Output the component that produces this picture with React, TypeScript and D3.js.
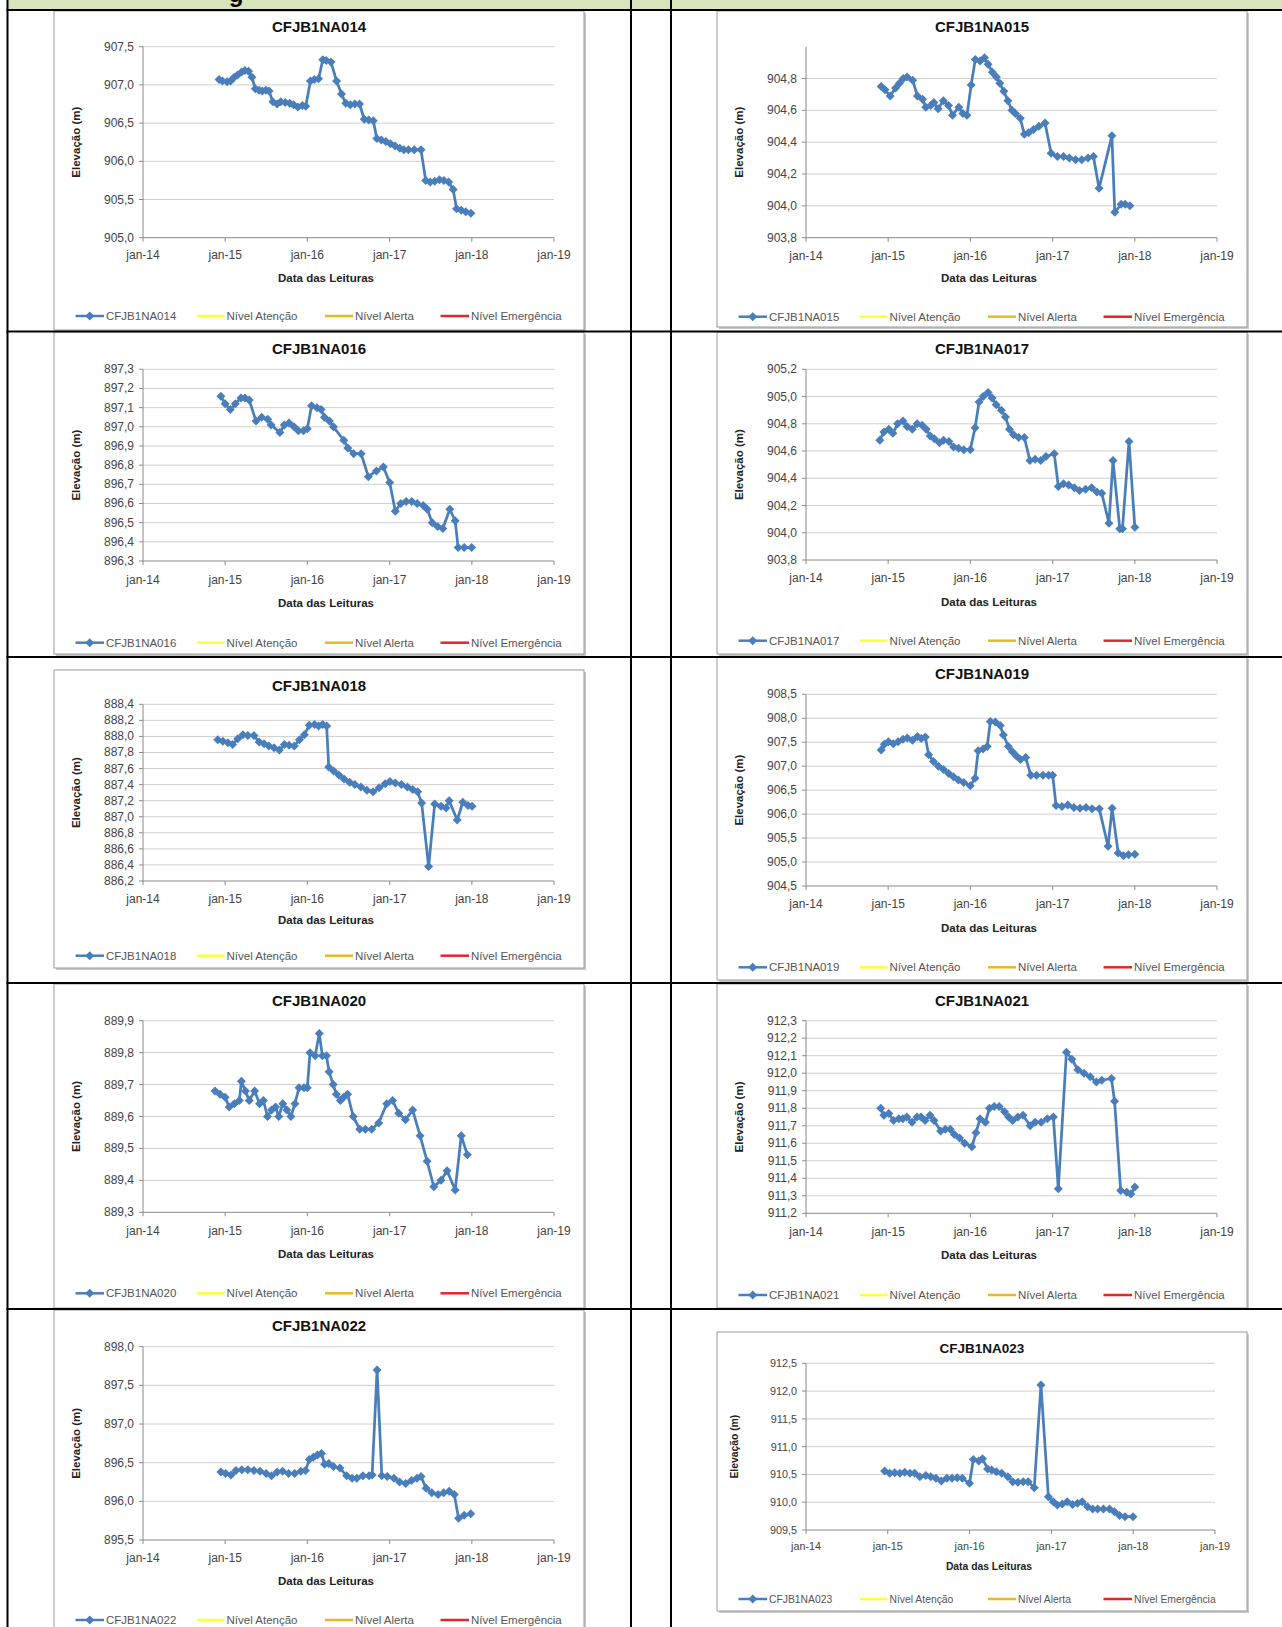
import React from "react";
import * as d3 from "d3";

// ---------- shared axis / legend texts ----------
const X_TICK_DATES = ["2014-01-01", "2015-01-01", "2016-01-01", "2017-01-01", "2018-01-01", "2019-01-01"];
const X_TICK_LABELS = ["jan-14", "jan-15", "jan-16", "jan-17", "jan-18", "jan-19"];
const LEVEL_LABELS = ["Nível Atenção", "Nível Alerta", "Nível Emergência"];
const X_AXIS_TITLE = "Data das Leituras";
const Y_AXIS_TITLE = "Elevação (m)";

const NAMES = [
  "CFJB1NA014", "CFJB1NA015", "CFJB1NA016", "CFJB1NA017", "CFJB1NA018",
  "CFJB1NA019", "CFJB1NA020", "CFJB1NA021", "CFJB1NA022", "CFJB1NA023",
];

// ---------- y axes ----------
const Y014 = [905.0, 905.5, 906.0, 906.5, 907.0, 907.5];
const Y015 = [903.8, 904.0, 904.2, 904.4, 904.6, 904.8];
const Y016 = [896.3, 896.4, 896.5, 896.6, 896.7, 896.8, 896.9, 897.0, 897.1, 897.2, 897.3];
const Y017 = [903.8, 904.0, 904.2, 904.4, 904.6, 904.8, 905.0, 905.2];
const Y018 = [886.2, 886.4, 886.6, 886.8, 887.0, 887.2, 887.4, 887.6, 887.8, 888.0, 888.2, 888.4];
const Y019 = [904.5, 905.0, 905.5, 906.0, 906.5, 907.0, 907.5, 908.0, 908.5];
const Y020 = [889.3, 889.4, 889.5, 889.6, 889.7, 889.8, 889.9];
const Y021 = [911.2, 911.3, 911.4, 911.5, 911.6, 911.7, 911.8, 911.9, 912.0, 912.1, 912.2, 912.3];
const Y022 = [895.5, 896.0, 896.5, 897.0, 897.5, 898.0];
const Y023 = [909.5, 910.0, 910.5, 911.0, 911.5, 912.0, 912.5];
const Y_MAX = [907.5, 905.0, 897.3, 905.2, 888.4, 908.5, 889.9, 912.3, 898.0, 912.5];

// ---------- series (date, elevation) ----------
type P = [string, number];
const S014: P[] = [
  ["2014-12-05", 907.07], ["2014-12-20", 907.05], ["2015-01-10", 907.04], ["2015-01-25", 907.05],
  ["2015-02-10", 907.10], ["2015-02-25", 907.13], ["2015-03-15", 907.17], ["2015-03-30", 907.19],
  ["2015-04-15", 907.18], ["2015-04-30", 907.10], ["2015-05-15", 906.95], ["2015-06-01", 906.93],
  ["2015-06-15", 906.92], ["2015-07-01", 906.93], ["2015-07-15", 906.92], ["2015-08-01", 906.78],
  ["2015-08-20", 906.75], ["2015-09-05", 906.78], ["2015-09-25", 906.77], ["2015-10-15", 906.76],
  ["2015-11-01", 906.74], ["2015-11-20", 906.71], ["2015-12-10", 906.73], ["2015-12-25", 906.72],
  ["2016-01-15", 907.05], ["2016-02-01", 907.07], ["2016-02-20", 907.08], ["2016-03-10", 907.33],
  ["2016-03-25", 907.32], ["2016-04-15", 907.30], ["2016-05-10", 907.05], ["2016-06-01", 906.88],
  ["2016-06-20", 906.76], ["2016-07-10", 906.74], ["2016-07-30", 906.75], ["2016-08-20", 906.75],
  ["2016-09-10", 906.55], ["2016-09-30", 906.54], ["2016-10-20", 906.53], ["2016-11-05", 906.30],
  ["2016-11-25", 906.28], ["2016-12-15", 906.26], ["2017-01-05", 906.23], ["2017-01-25", 906.20],
  ["2017-02-15", 906.17], ["2017-03-05", 906.15], ["2017-03-25", 906.15], ["2017-04-20", 906.15],
  ["2017-05-20", 906.15], ["2017-06-10", 905.75], ["2017-06-30", 905.73], ["2017-07-20", 905.74],
  ["2017-08-10", 905.76], ["2017-08-30", 905.75], ["2017-09-20", 905.73], ["2017-10-10", 905.63],
  ["2017-10-25", 905.38], ["2017-11-15", 905.36], ["2017-12-05", 905.34], ["2017-12-28", 905.32],
];
const S015: P[] = [
  ["2014-12-01", 904.75], ["2014-12-18", 904.73], ["2015-01-10", 904.69], ["2015-02-03", 904.74],
  ["2015-02-20", 904.77], ["2015-03-09", 904.80], ["2015-03-26", 904.81], ["2015-04-20", 904.79],
  ["2015-05-11", 904.69], ["2015-06-03", 904.67], ["2015-06-17", 904.62], ["2015-07-09", 904.63],
  ["2015-07-23", 904.65], ["2015-08-11", 904.61], ["2015-09-03", 904.66], ["2015-09-26", 904.63],
  ["2015-10-14", 904.57], ["2015-11-11", 904.62], ["2015-11-29", 904.58], ["2015-12-17", 904.57],
  ["2016-01-05", 904.76], ["2016-01-23", 904.92], ["2016-02-14", 904.91], ["2016-03-04", 904.93],
  ["2016-03-20", 904.89], ["2016-04-08", 904.84], ["2016-04-26", 904.81], ["2016-05-11", 904.77],
  ["2016-05-29", 904.72], ["2016-06-16", 904.66], ["2016-07-04", 904.60], ["2016-07-19", 904.58],
  ["2016-08-10", 904.55], ["2016-08-28", 904.45], ["2016-09-16", 904.46], ["2016-10-08", 904.48],
  ["2016-11-01", 904.50], ["2016-11-28", 904.52], ["2016-12-25", 904.33], ["2017-01-22", 904.31],
  ["2017-02-18", 904.31], ["2017-03-16", 904.30], ["2017-04-13", 904.29], ["2017-05-10", 904.29],
  ["2017-06-07", 904.30], ["2017-07-01", 904.31], ["2017-07-26", 904.11], ["2017-09-21", 904.44],
  ["2017-10-04", 903.96], ["2017-11-01", 904.01], ["2017-11-19", 904.01], ["2017-12-10", 904.00],
];
const S016: P[] = [
  ["2014-12-13", 897.16], ["2015-01-01", 897.12], ["2015-01-24", 897.09], ["2015-02-15", 897.12],
  ["2015-03-12", 897.15], ["2015-03-30", 897.15], ["2015-04-18", 897.14], ["2015-05-18", 897.03],
  ["2015-06-12", 897.05], ["2015-07-09", 897.04], ["2015-07-24", 897.01], ["2015-09-01", 896.97],
  ["2015-09-21", 897.01], ["2015-10-12", 897.02], ["2015-11-03", 897.00], ["2015-11-22", 896.98],
  ["2015-12-15", 896.98], ["2016-01-01", 896.99], ["2016-01-20", 897.11], ["2016-02-13", 897.10],
  ["2016-03-02", 897.09], ["2016-03-17", 897.05], ["2016-04-08", 897.03], ["2016-04-26", 897.00],
  ["2016-06-11", 896.93], ["2016-06-29", 896.89], ["2016-07-25", 896.86], ["2016-08-27", 896.86],
  ["2016-09-28", 896.74], ["2016-11-03", 896.77], ["2016-12-04", 896.79], ["2017-01-01", 896.71],
  ["2017-01-26", 896.56], ["2017-02-19", 896.60], ["2017-03-15", 896.61], ["2017-04-09", 896.61],
  ["2017-05-03", 896.60], ["2017-05-30", 896.59], ["2017-06-17", 896.57], ["2017-07-09", 896.50],
  ["2017-08-02", 896.48], ["2017-08-25", 896.47], ["2017-09-25", 896.57], ["2017-10-19", 896.51],
  ["2017-11-01", 896.37], ["2017-11-28", 896.37], ["2017-12-31", 896.37],
];
const S017: P[] = [
  ["2014-11-25", 904.68], ["2014-12-13", 904.74], ["2015-01-04", 904.76], ["2015-01-22", 904.73],
  ["2015-02-12", 904.80], ["2015-03-08", 904.82], ["2015-03-26", 904.78], ["2015-04-18", 904.76],
  ["2015-05-10", 904.80], ["2015-06-01", 904.79], ["2015-06-19", 904.76], ["2015-07-07", 904.71],
  ["2015-07-25", 904.69], ["2015-08-17", 904.66], ["2015-09-04", 904.68], ["2015-09-28", 904.67],
  ["2015-10-19", 904.63], ["2015-11-10", 904.62], ["2015-12-03", 904.61], ["2016-01-01", 904.61],
  ["2016-01-22", 904.77], ["2016-02-09", 904.96], ["2016-02-27", 905.00], ["2016-03-20", 905.03],
  ["2016-04-07", 904.99], ["2016-04-25", 904.94], ["2016-05-18", 904.90], ["2016-06-05", 904.85],
  ["2016-06-23", 904.76], ["2016-07-11", 904.72], ["2016-08-03", 904.70], ["2016-08-28", 904.70],
  ["2016-09-22", 904.53], ["2016-10-15", 904.54], ["2016-11-09", 904.53], ["2016-12-02", 904.56],
  ["2017-01-08", 904.58], ["2017-01-26", 904.34], ["2017-02-18", 904.36], ["2017-03-13", 904.35],
  ["2017-04-07", 904.33], ["2017-04-30", 904.31], ["2017-05-27", 904.32], ["2017-06-23", 904.33],
  ["2017-07-16", 904.30], ["2017-08-07", 904.29], ["2017-09-08", 904.07], ["2017-09-26", 904.53],
  ["2017-10-26", 904.03], ["2017-11-07", 904.03], ["2017-12-06", 904.67], ["2018-01-01", 904.04],
];
const S018: P[] = [
  ["2014-11-29", 887.96], ["2014-12-22", 887.94], ["2015-01-13", 887.92], ["2015-02-03", 887.90],
  ["2015-02-26", 887.97], ["2015-03-21", 888.02], ["2015-04-12", 888.01], ["2015-05-09", 888.01],
  ["2015-06-01", 887.93], ["2015-06-23", 887.91], ["2015-07-14", 887.88], ["2015-08-06", 887.86],
  ["2015-08-30", 887.83], ["2015-09-21", 887.90], ["2015-10-12", 887.89], ["2015-11-04", 887.88],
  ["2015-11-27", 887.96], ["2015-12-19", 888.02], ["2016-01-10", 888.14], ["2016-02-02", 888.15],
  ["2016-02-20", 888.13], ["2016-03-09", 888.15], ["2016-03-27", 888.13], ["2016-04-05", 887.62],
  ["2016-04-27", 887.57], ["2016-05-20", 887.52], ["2016-06-12", 887.47], ["2016-07-07", 887.43],
  ["2016-07-30", 887.40], ["2016-08-26", 887.37], ["2016-09-22", 887.33], ["2016-10-19", 887.31],
  ["2016-11-15", 887.36], ["2016-12-12", 887.41], ["2017-01-02", 887.44], ["2017-01-26", 887.42],
  ["2017-02-22", 887.40], ["2017-03-21", 887.37], ["2017-04-13", 887.34], ["2017-05-05", 887.31],
  ["2017-05-23", 887.17], ["2017-06-23", 886.38], ["2017-07-20", 887.16], ["2017-08-17", 887.13],
  ["2017-09-08", 887.11], ["2017-09-22", 887.20], ["2017-10-28", 886.96], ["2017-11-22", 887.18],
  ["2017-12-15", 887.14], ["2018-01-02", 887.13],
];
const S019: P[] = [
  ["2014-12-01", 907.34], ["2014-12-15", 907.46], ["2015-01-02", 907.51], ["2015-01-24", 907.47],
  ["2015-02-14", 907.51], ["2015-03-08", 907.56], ["2015-03-27", 907.59], ["2015-04-19", 907.54],
  ["2015-05-11", 907.62], ["2015-05-28", 907.58], ["2015-06-15", 907.61], ["2015-06-30", 907.24],
  ["2015-07-21", 907.10], ["2015-08-12", 907.00], ["2015-09-04", 906.93], ["2015-09-27", 906.85],
  ["2015-10-18", 906.78], ["2015-11-09", 906.71], ["2015-12-03", 906.66], ["2016-01-01", 906.59],
  ["2016-01-22", 906.75], ["2016-02-05", 907.32], ["2016-02-27", 907.36], ["2016-03-16", 907.41],
  ["2016-03-30", 907.93], ["2016-04-21", 907.92], ["2016-05-13", 907.85], ["2016-05-27", 907.65],
  ["2016-06-18", 907.41], ["2016-07-06", 907.30], ["2016-07-24", 907.21], ["2016-08-11", 907.14],
  ["2016-09-03", 907.18], ["2016-09-26", 906.81], ["2016-10-21", 906.81], ["2016-11-19", 906.81],
  ["2016-12-14", 906.81], ["2017-01-01", 906.81], ["2017-01-16", 906.18], ["2017-02-11", 906.16],
  ["2017-03-09", 906.19], ["2017-04-05", 906.14], ["2017-05-02", 906.12], ["2017-05-29", 906.14],
  ["2017-06-25", 906.11], ["2017-07-27", 906.11], ["2017-09-04", 905.33], ["2017-09-22", 906.12],
  ["2017-10-19", 905.19], ["2017-11-12", 905.13], ["2017-12-04", 905.15], ["2018-01-01", 905.16],
];
const S020: P[] = [
  ["2014-11-17", 889.68], ["2014-12-09", 889.67], ["2015-01-01", 889.66], ["2015-01-19", 889.63],
  ["2015-02-11", 889.64], ["2015-03-05", 889.65], ["2015-03-14", 889.71], ["2015-04-01", 889.68],
  ["2015-04-18", 889.65], ["2015-05-12", 889.68], ["2015-06-03", 889.64], ["2015-06-20", 889.65],
  ["2015-07-08", 889.60], ["2015-07-26", 889.62], ["2015-08-13", 889.63], ["2015-08-27", 889.60],
  ["2015-09-14", 889.64], ["2015-10-02", 889.62], ["2015-10-20", 889.60], ["2015-11-07", 889.64],
  ["2015-11-25", 889.69], ["2015-12-17", 889.69], ["2016-01-01", 889.69], ["2016-01-13", 889.80],
  ["2016-02-05", 889.79], ["2016-02-23", 889.86], ["2016-03-08", 889.79], ["2016-03-26", 889.79],
  ["2016-04-07", 889.74], ["2016-04-25", 889.70], ["2016-05-09", 889.67], ["2016-05-27", 889.65],
  ["2016-06-10", 889.66], ["2016-06-28", 889.67], ["2016-07-23", 889.60], ["2016-08-21", 889.56],
  ["2016-09-15", 889.56], ["2016-10-13", 889.56], ["2016-11-13", 889.58], ["2016-12-19", 889.64],
  ["2017-01-14", 889.65], ["2017-02-10", 889.61], ["2017-03-12", 889.59], ["2017-04-13", 889.62],
  ["2017-05-16", 889.54], ["2017-06-16", 889.46], ["2017-07-16", 889.38], ["2017-08-17", 889.40],
  ["2017-09-13", 889.43], ["2017-10-19", 889.37], ["2017-11-15", 889.54], ["2017-12-12", 889.48],
];
const S021: P[] = [
  ["2014-11-29", 911.80], ["2014-12-13", 911.76], ["2015-01-04", 911.77], ["2015-01-25", 911.73],
  ["2015-02-17", 911.74], ["2015-03-07", 911.74], ["2015-03-25", 911.75], ["2015-04-17", 911.72],
  ["2015-05-09", 911.75], ["2015-05-27", 911.75], ["2015-06-14", 911.73], ["2015-07-06", 911.76],
  ["2015-07-24", 911.73], ["2015-08-22", 911.67], ["2015-09-12", 911.68], ["2015-10-04", 911.68],
  ["2015-10-22", 911.65], ["2015-11-14", 911.63], ["2015-12-07", 911.60], ["2016-01-08", 911.58],
  ["2016-01-26", 911.66], ["2016-02-13", 911.74], ["2016-03-08", 911.72], ["2016-03-26", 911.80],
  ["2016-04-16", 911.81], ["2016-05-08", 911.81], ["2016-06-01", 911.78], ["2016-06-19", 911.75],
  ["2016-07-07", 911.73], ["2016-07-30", 911.75], ["2016-08-22", 911.76], ["2016-09-23", 911.70],
  ["2016-10-15", 911.72], ["2016-11-11", 911.72], ["2016-12-08", 911.74], ["2017-01-04", 911.75],
  ["2017-01-26", 911.34], ["2017-03-03", 912.12], ["2017-03-27", 912.08], ["2017-04-23", 912.02],
  ["2017-05-20", 912.00], ["2017-06-17", 911.98], ["2017-07-14", 911.95], ["2017-08-07", 911.96],
  ["2017-09-19", 911.97], ["2017-10-03", 911.84], ["2017-10-30", 911.33], ["2017-11-26", 911.32],
  ["2017-12-14", 911.31], ["2018-01-01", 911.35],
];
const S022: P[] = [
  ["2014-12-13", 896.38], ["2015-01-03", 896.36], ["2015-01-27", 896.34], ["2015-02-18", 896.40],
  ["2015-03-16", 896.41], ["2015-04-12", 896.41], ["2015-05-09", 896.40], ["2015-06-05", 896.39],
  ["2015-07-02", 896.36], ["2015-07-26", 896.33], ["2015-08-20", 896.38], ["2015-09-13", 896.39],
  ["2015-10-10", 896.36], ["2015-11-06", 896.36], ["2015-12-03", 896.39], ["2015-12-24", 896.40],
  ["2016-01-10", 896.54], ["2016-01-28", 896.57], ["2016-02-15", 896.60], ["2016-03-04", 896.62],
  ["2016-03-18", 896.48], ["2016-04-05", 896.49], ["2016-04-26", 896.45], ["2016-05-25", 896.43],
  ["2016-06-24", 896.33], ["2016-07-18", 896.30], ["2016-08-08", 896.30], ["2016-09-04", 896.33],
  ["2016-10-01", 896.33], ["2016-10-15", 896.34], ["2016-11-06", 897.70], ["2016-11-27", 896.33],
  ["2016-12-21", 896.32], ["2017-01-20", 896.30], ["2017-02-14", 896.25], ["2017-03-13", 896.23],
  ["2017-04-08", 896.27], ["2017-05-02", 896.30], ["2017-05-20", 896.32], ["2017-06-12", 896.17],
  ["2017-07-07", 896.11], ["2017-08-04", 896.09], ["2017-08-29", 896.11], ["2017-09-22", 896.13],
  ["2017-10-15", 896.09], ["2017-11-03", 895.78], ["2017-11-28", 895.82], ["2017-12-27", 895.84],
];
const S023: P[] = [
  ["2014-12-18", 910.56], ["2015-01-10", 910.52], ["2015-02-01", 910.53], ["2015-02-24", 910.52],
  ["2015-03-18", 910.54], ["2015-04-10", 910.52], ["2015-05-01", 910.52], ["2015-05-24", 910.46],
  ["2015-06-20", 910.48], ["2015-07-12", 910.46], ["2015-08-04", 910.43], ["2015-08-28", 910.38],
  ["2015-09-22", 910.43], ["2015-10-15", 910.43], ["2015-11-07", 910.44], ["2015-11-30", 910.43],
  ["2016-01-01", 910.34], ["2016-01-18", 910.77], ["2016-02-11", 910.74], ["2016-02-28", 910.78],
  ["2016-03-22", 910.60], ["2016-04-09", 910.58], ["2016-04-30", 910.55], ["2016-05-24", 910.52],
  ["2016-06-20", 910.46], ["2016-07-12", 910.37], ["2016-08-04", 910.36], ["2016-08-28", 910.37],
  ["2016-09-19", 910.37], ["2016-10-16", 910.26], ["2016-11-15", 912.11], ["2016-12-18", 910.10],
  ["2017-01-09", 910.01], ["2017-01-27", 909.95], ["2017-02-18", 909.97], ["2017-03-12", 910.01],
  ["2017-04-05", 909.96], ["2017-04-27", 909.98], ["2017-05-18", 910.01], ["2017-06-11", 909.92],
  ["2017-07-04", 909.88], ["2017-07-26", 909.88], ["2017-08-21", 909.88], ["2017-09-17", 909.88],
  ["2017-10-09", 909.83], ["2017-11-01", 909.76], ["2017-11-25", 909.74], ["2017-12-31", 909.74],
];

const SERIES = [S014, S015, S016, S017, S018, S019, S020, S021, S022, S023];
const Y_TICKS = [Y014, Y015, Y016, Y017, Y018, Y019, Y020, Y021, Y022, Y023];

// ---------- layout (positions only) ----------
type L = {
  fx: number; fy: number; fw: number; fh: number;
  pl: number; pt: number; pr: number; pb: number;
  title: number; ticks: number; axisT: number; legend: number; ylab: number; s: number;
};
const LEFT = { fx: 54, fw: 530, pl: 143, pr: 554, ylab: 75.5 };
const RIGHT = { fx: 717, fw: 530, pl: 806, pr: 1217, ylab: 738.5 };
const LAYOUT: L[] = [
  { ...LEFT, fy: 11, fh: 319, pt: 46.7, pb: 237.7, title: 26.7, ticks: 255, axisT: 277.7, legend: 316, s: 1 },
  { ...RIGHT, fy: 11, fh: 316, pt: 46.7, pb: 237.7, title: 26.7, ticks: 256, axisT: 278, legend: 316.7, s: 1 },
  { ...LEFT, fy: 332, fh: 322, pt: 369.3, pb: 561, title: 348.3, ticks: 580, axisT: 603, legend: 642.7, s: 1 },
  { ...RIGHT, fy: 332, fh: 322, pt: 369.3, pb: 560, title: 348.3, ticks: 578, axisT: 601.7, legend: 640.7, s: 1 },
  { ...LEFT, fy: 670, fh: 298, pt: 704.3, pb: 881, title: 685.7, ticks: 899.3, axisT: 920, legend: 955.7, s: 1 },
  { ...RIGHT, fy: 657, fh: 323, pt: 694.3, pb: 886, title: 673.3, ticks: 904.3, axisT: 927.7, legend: 967.3, s: 1 },
  { ...LEFT, fy: 984, fh: 324, pt: 1020.7, pb: 1212.3, title: 1000, ticks: 1230.7, axisT: 1254, legend: 1293.3, s: 1 },
  { ...RIGHT, fy: 984, fh: 324, pt: 1020.7, pb: 1213.3, title: 1000, ticks: 1232.3, axisT: 1255, legend: 1295, s: 1 },
  { ...LEFT, fy: 1310, fh: 340, pt: 1346.7, pb: 1540, title: 1325.7, ticks: 1558.3, axisT: 1581, legend: 1620, s: 1 },
  { ...RIGHT, ylab: 734, pr: 1215, fy: 1332, fh: 279, pt: 1363.3, pb: 1530, title: 1348.3, ticks: 1545.7, axisT: 1566.7, legend: 1599, s: 0.9 },
];

const BLUE = "#4a7ebb";
const LEVEL_COLORS = ["#ffff33", "#e8b923", "#e3262b"];
const FONT = "'Liberation Sans', Arial, Helvetica, sans-serif";
const parse = d3.timeParse("%Y-%m-%d");
const fmt = (v: number) => d3.format(".1f")(v).replace(".", ",");
const DIAMOND = "M0,-4.5L4.5,0L0,4.5L-4.5,0Z";

function MiniChart({ idx }: { idx: number }) {
  const lay = LAYOUT[idx];
  const data = SERIES[idx];
  const ticks = Y_TICKS[idx];
  const s = lay.s;
  const x = d3.scaleTime()
    .domain([parse(X_TICK_DATES[0])!, parse(X_TICK_DATES[X_TICK_DATES.length - 1])!])
    .range([lay.pl, lay.pr]);
  const y = d3.scaleLinear().domain([ticks[0], Y_MAX[idx]]).range([lay.pb, lay.pt]);
  const line = d3.line<P>().x((d) => x(parse(d[0])!)).y((d) => y(d[1]));
  const cx = lay.fx + lay.fw / 2;
  const legendItems = [
    { x0: 21.5, x1: 50, tx: 52, label: NAMES[idx], color: BLUE, marker: true },
    { x0: 143, x1: 170.5, tx: 172.5, label: LEVEL_LABELS[0], color: LEVEL_COLORS[0], marker: false },
    { x0: 271, x1: 299, tx: 301, label: LEVEL_LABELS[1], color: LEVEL_COLORS[1], marker: false },
    { x0: 386.5, x1: 415, tx: 417, label: LEVEL_LABELS[2], color: LEVEL_COLORS[2], marker: false },
  ];
  return (
    <g fontFamily={FONT}>
      <rect x={lay.fx + 2} y={lay.fy + 2} width={lay.fw} height={lay.fh} fill="#c8c8c8" />
      <rect x={lay.fx} y={lay.fy} width={lay.fw} height={lay.fh} fill="#fff" stroke="#9a9a9a" strokeWidth={1} />
      <text x={cx} y={lay.title} textAnchor="middle" dominantBaseline="central" fontWeight="bold" fontSize={15 * s} fill="#111">
        {NAMES[idx]}
      </text>
      {ticks.slice(1).map((t) => (
        <line key={"g" + t} x1={lay.pl} x2={lay.pr} y1={y(t)} y2={y(t)} stroke="#cfcfcf" strokeWidth={1} />
      ))}
      <line x1={lay.pl} x2={lay.pl} y1={lay.pt} y2={lay.pb} stroke="#8a8a8a" strokeWidth={1} />
      {ticks.map((t) => (
        <g key={"yt" + t}>
          <line x1={lay.pl - 4} x2={lay.pl} y1={y(t)} y2={y(t)} stroke="#8a8a8a" />
          <text x={lay.pl - 9} y={y(t)} textAnchor="end" dominantBaseline="central" fontSize={12 * s} fill="#444">
            {fmt(t)}
          </text>
        </g>
      ))}
      <line x1={lay.pl} x2={lay.pr} y1={lay.pb} y2={lay.pb} stroke="#8a8a8a" strokeWidth={1} />
      {X_TICK_DATES.map((d, i) => {
        const xx = x(parse(d)!);
        return (
          <g key={"xt" + d}>
            <line x1={xx} x2={xx} y1={lay.pb} y2={lay.pb + 4} stroke="#8a8a8a" />
            <text x={xx} y={lay.ticks} textAnchor="middle" dominantBaseline="central" fontSize={12 * s} fill="#444">
              {X_TICK_LABELS[i]}
            </text>
          </g>
        );
      })}
      <text x={cx + 7} y={lay.axisT} textAnchor="middle" dominantBaseline="central" fontWeight="bold" fontSize={11.5 * s} fill="#222">
        {X_AXIS_TITLE}
      </text>
      <text
        transform={`translate(${lay.ylab},${(lay.pt + lay.pb) / 2}) rotate(-90)`}
        textAnchor="middle"
        dominantBaseline="central"
        fontWeight="bold"
        fontSize={11.5 * s}
        fill="#222"
      >
        {Y_AXIS_TITLE}
      </text>
      <path d={line(data) || ""} fill="none" stroke={BLUE} strokeWidth={2.75} strokeLinejoin="round" />
      {data.map((d, i) => (
        <path key={"m" + i} d={DIAMOND} transform={`translate(${x(parse(d[0])!)},${y(d[1])})`} fill={BLUE} />
      ))}
      {legendItems.map((it, i) => (
        <g key={"lg" + i}>
          <line x1={lay.fx + it.x0} x2={lay.fx + it.x1} y1={lay.legend} y2={lay.legend} stroke={it.color} strokeWidth={2.5} />
          {it.marker && (
            <path d={DIAMOND} transform={`translate(${lay.fx + (it.x0 + it.x1) / 2},${lay.legend})`} fill={BLUE} />
          )}
          <text x={lay.fx + it.tx} y={lay.legend} dominantBaseline="central" fontSize={11.5 * s} fill="#555">
            {it.label}
          </text>
        </g>
      ))}
    </g>
  );
}

export default function App() {
  const W = 1282;
  const H = 1627;
  const rowLines = [10, 331.5, 657, 983, 1309];
  const colLines = [7.5, 631, 671];
  return (
    <svg
      width={W}
      height={H}
      style={{ position: "absolute", left: 0, top: 0, background: "#fff", display: "block" }}
      fontFamily={FONT}
    >
      <rect x={0} y={0} width={W} height={H} fill="#fff" />
      <rect x={8} y={0} width={W - 8} height={9.5} fill="#d8e4bc" />
      <text x={236} y={1.5} textAnchor="middle" fontWeight="bold" fontSize={24} fill="#000">g</text>
      {NAMES.map((_, i) => (
        <MiniChart key={i} idx={i} />
      ))}
      {rowLines.map((yy) => (
        <line key={"r" + yy} x1={6.5} x2={W} y1={yy} y2={yy} stroke="#000" strokeWidth={2} />
      ))}
      {colLines.map((xx) => (
        <line key={"c" + xx} x1={xx} x2={xx} y1={0} y2={H} stroke="#000" strokeWidth={2} />
      ))}
    </svg>
  );
}
